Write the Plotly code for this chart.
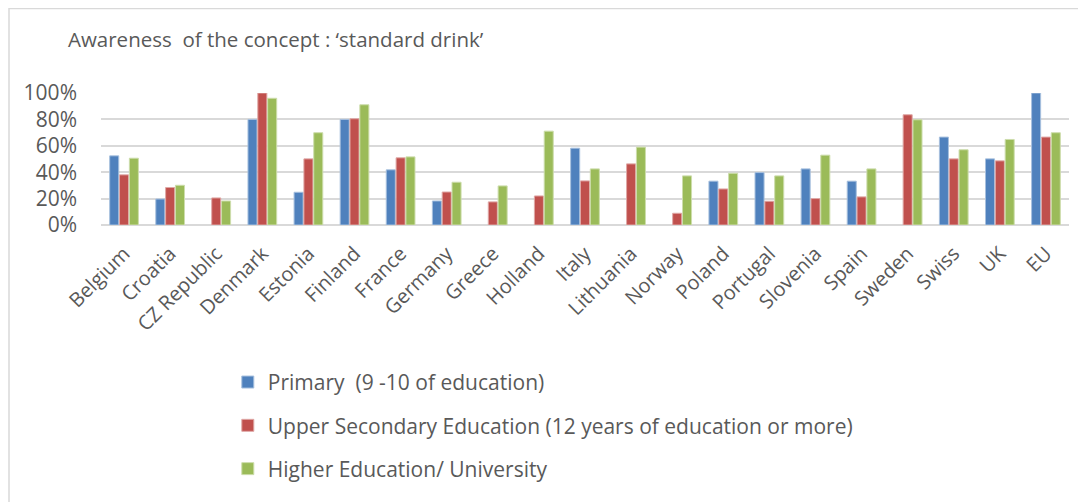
import plotly.graph_objects as go

countries = ["Belgium", "Croatia", "CZ Republic", "Denmark", "Estonia", "Finland", "France",
             "Germany", "Greece", "Holland", "Italy", "Lithuania", "Norway", "Poland",
             "Portugal", "Slovenia", "Spain", "Sweden", "Swiss", "UK", "EU"]

primary = [0.524, 0.197, None, 0.80, 0.248, 0.80, 0.418, 0.182, None, None, 0.582, None, None,
           0.332, 0.397, 0.425, 0.332, None, 0.666, 0.501, 1.00]
upper_secondary = [0.38, 0.284, 0.205, 1.00, 0.501, 0.805, 0.509, 0.25, 0.175, 0.22, 0.334, 0.463,
                   0.089, 0.273, 0.18, 0.20, 0.213, 0.835, 0.501, 0.486, 0.666]
higher = [0.506, 0.301, 0.182, 0.96, 0.699, 0.911, 0.516, 0.324, 0.296, 0.711, 0.425, 0.59,
          0.372, 0.392, 0.372, 0.529, 0.425, 0.797, 0.57, 0.648, 0.699]

series_names = ["Primary  (9 -10 of education)",
                "Upper Secondary Education (12 years of education or more)",
                "Higher Education/ University"]
colors = ["#4F81BD", "#C0504D", "#9BBB59"]
edge = ["#A7C0DE", "#DFA8A6", "#CDDDAC"]

FONT = "Open Sans"
GRAY = "#595959"

W, H = 1078, 494          # page body has an 8px margin
L, R, T, B = 93, 17, 85, 277
PW, PH = W - L - R, H - T - B

fig = go.Figure()
for i, (name, vals) in enumerate(zip(series_names, [primary, upper_secondary, higher])):
    fig.add_trace(go.Bar(
        x=countries, y=vals, name=name,
        marker=dict(color=colors[i], line=dict(color=edge[i], width=1)),
        legendgroup=f"g{i}",
    ))

fig.update_layout(
    width=W, height=H,
    paper_bgcolor="white", plot_bgcolor="white",
    margin=dict(l=L, r=R, t=T, b=B, autoexpand=False),
    barmode="group", bargap=0.36, bargroupgap=0.08,
    font=dict(family=FONT, color=GRAY),
    title=dict(text="Awareness  of the concept : \u2018standard drink\u2019",
               xref="container", yref="container", x=60 / W, y=1 - 32 / H,
               xanchor="left", yanchor="middle",
               font=dict(family=FONT, size=20.5, color=GRAY)),
    showlegend=True,
    legend=dict(x=0.131, y=-1.037, xanchor="left", yanchor="top",
                orientation="v", tracegroupgap=13,
                font=dict(family=FONT, size=21, color=GRAY),
                bgcolor="rgba(0,0,0,0)"),
    xaxis=dict(tickangle=-45, tickfont=dict(family=FONT, size=20, color=GRAY),
               showgrid=False, showline=False, ticks="", automargin=False,
               ticklabelstandoff=12),
    yaxis=dict(range=[0, 1.0], tickformat=".0%", dtick=0.2,
               tickfont=dict(family=FONT, size=21, color=GRAY),
               showgrid=True, gridcolor="#D9D9D9", gridwidth=1.5,
               zeroline=True, zerolinecolor="#D9D9D9", zerolinewidth=1.5,
               showline=False, ticks="", ticklabelstandoff=23, automargin=False),
    shapes=[
        dict(type="line", xref="paper", yref="paper",
             x0=(1 - L) / PW, x1=(W - L) / PW,
             y0=(PH + T - 0.5) / PH, y1=(PH + T - 0.5) / PH,
             line=dict(color="#D9D9D9", width=1.5)),
        dict(type="line", xref="paper", yref="paper",
             x0=(1 - L) / PW, x1=(1 - L) / PW,
             y0=(PH + T) / PH, y1=(PH - H + T) / PH,
             line=dict(color="#D9D9D9", width=1.5)),
    ],
)

fig.write_html("out.html")
